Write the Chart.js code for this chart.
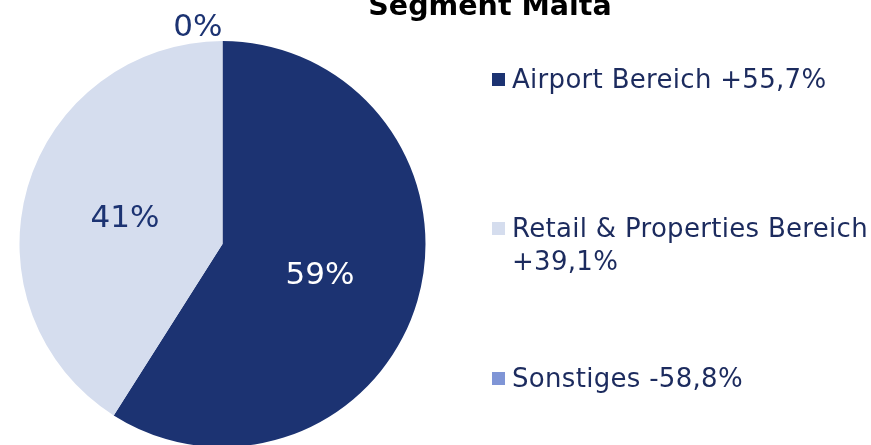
<!DOCTYPE html>
<html>
<head>
<meta charset="utf-8">
<script src="https://cdn.jsdelivr.net/npm/chart.js@4"></script>
<style>
html,body{margin:0;padding:0;background:#fff;overflow:hidden;}
#wrap{position:relative;width:871px;height:460px;}
</style>
</head>
<body>
<div id="wrap"><canvas id="c"></canvas></div>
<script>
const chartTitle = "Segment Malta";
const categories = ["Airport Bereich", "Retail & Properties Bereich", "Sonstiges"];
const shares = [59, 41, 0];
const shareLabels = ["59%", "41%", "0%"];
const changes = ["+55,7%", "+39,1%", "-58,8%"];
const colors = ["#1C3372", "#D5DDEE", "#7F95D6"];
const labelColors = ["#FFFFFF", "#1C3372", "#1C3372"];

const FONT = '"DejaVu Sans", Verdana, sans-serif';

const overlay = {
  id: 'overlay',
  afterDraw(chart) {
    const ctx = chart.ctx;
    ctx.save();
    // title
    ctx.font = 'bold 28.5px ' + FONT;
    ctx.fillStyle = '#000';
    ctx.textAlign = 'center';
    ctx.textBaseline = 'alphabetic';
    ctx.fillText(chartTitle, 490, 15);

    // data labels
    const meta = chart.getDatasetMeta(0);
    ctx.font = '31px ' + FONT;
    meta.data.forEach((arc, i) => {
      const p = arc.getProps(['x','y','startAngle','endAngle','outerRadius'], true);
      const mid = (p.startAngle + p.endAngle) / 2;
      ctx.fillStyle = labelColors[i];
      if (p.endAngle - p.startAngle < 0.01) {
        ctx.textAlign = 'right';
        ctx.fillText(shareLabels[i], p.x, p.y - p.outerRadius - 5);
      } else {
        const r = p.outerRadius * 0.5;
        const x = p.x + Math.cos(mid) * r;
        const y = p.y + Math.sin(mid) * r;
        ctx.textAlign = 'center';
        ctx.fillText(shareLabels[i], x, y + 11.5);
      }
    });

    // legend
    ctx.font = '26px ' + FONT;
    try { ctx.letterSpacing = '0.3px'; } catch (e) {}
    ctx.textAlign = 'left';
    const tx = 512, maxW = 356;
    const baselines = [88, 237, 387];
    categories.forEach((cat, i) => {
      const words = (cat + ' ' + changes[i]).split(' ');
      const lines = [];
      let cur = '';
      words.forEach(w => {
        const t = cur ? cur + ' ' + w : w;
        if (ctx.measureText(t).width > maxW && cur) { lines.push(cur); cur = w; }
        else cur = t;
      });
      lines.push(cur);
      const by = baselines[i];
      ctx.fillStyle = colors[i];
      ctx.fillRect(492, by - 15, 13, 13);
      ctx.fillStyle = '#1C2B5E';
      lines.forEach((ln, k) => ctx.fillText(ln, tx, by + k * 33));
    });
    ctx.restore();
  }
};

new Chart(document.getElementById('c'), {
  type: 'pie',
  data: {
    labels: categories,
    datasets: [{
      data: shares,
      backgroundColor: colors,
      borderWidth: 0
    }]
  },
  options: {
    responsive: true,
    maintainAspectRatio: false,
    animation: false,
    layout: { padding: { left: 19, right: 445, top: 41, bottom: 13 } },
    plugins: {
      legend: { display: false },
      title: { display: false },
      tooltip: { enabled: false }
    }
  },
  plugins: [overlay]
});
</script>
</body>
</html>
